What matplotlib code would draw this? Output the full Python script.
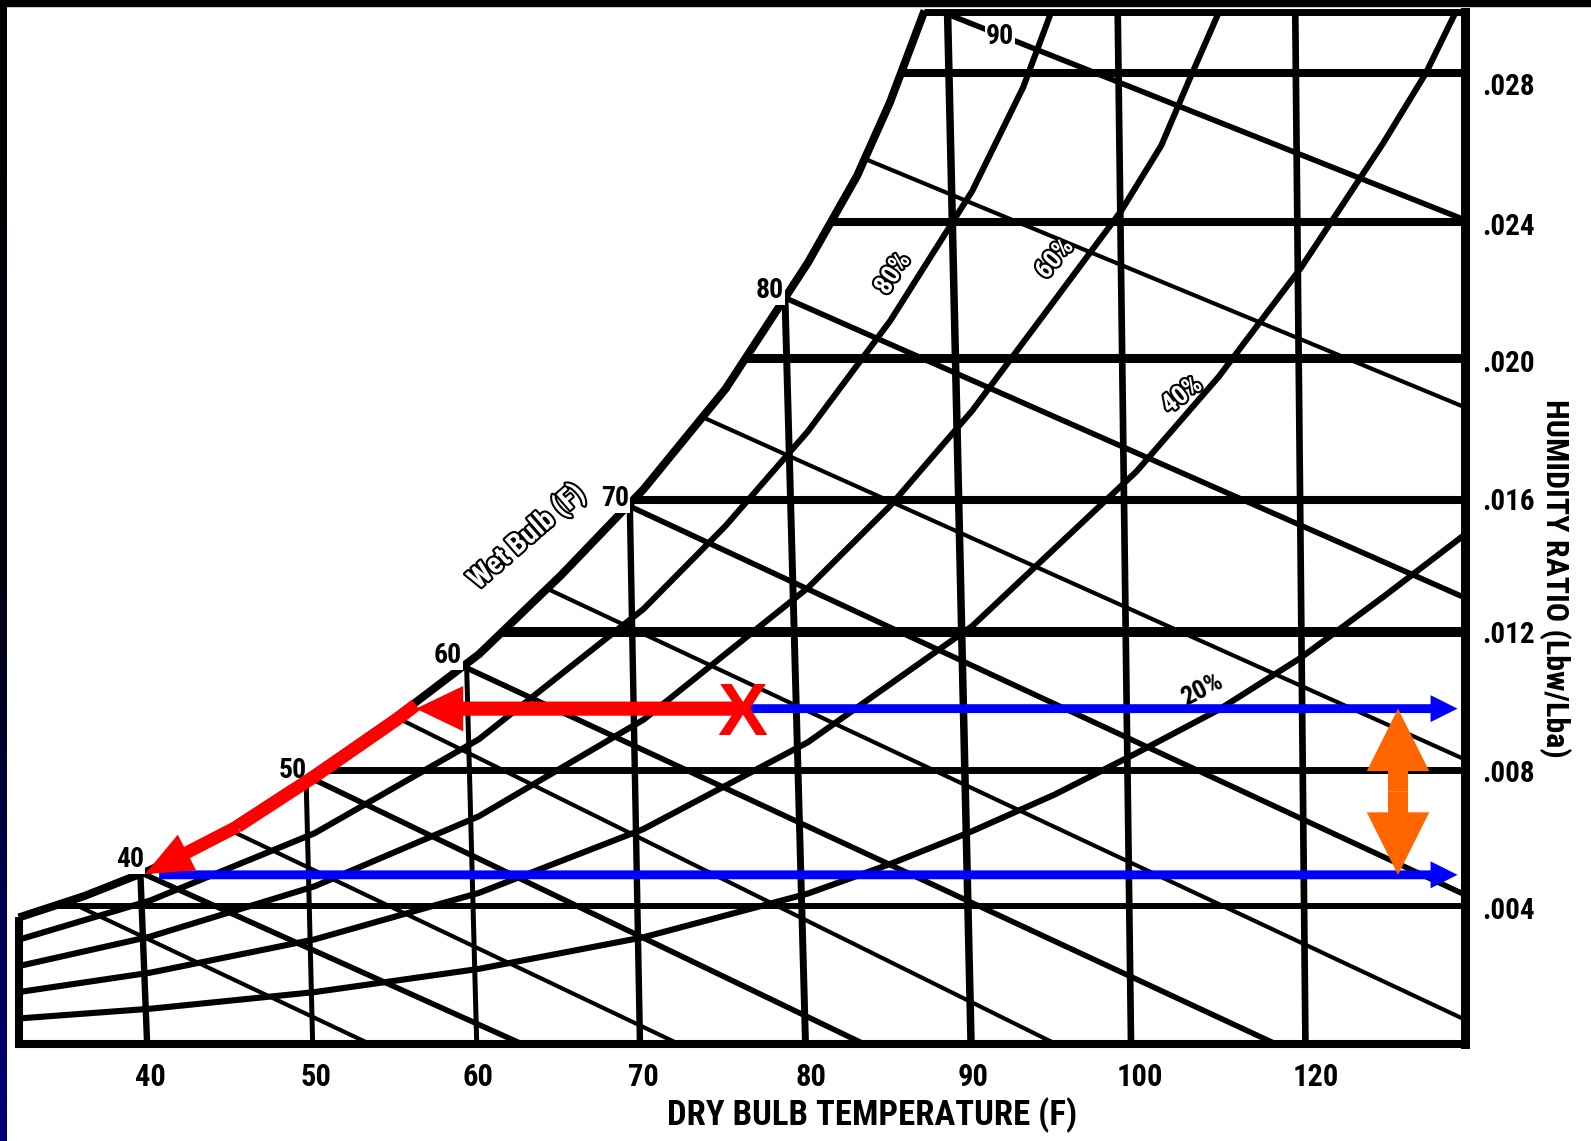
import numpy as np
import matplotlib
matplotlib.use('Agg')
import matplotlib.pyplot as plt
import matplotlib.patheffects as pe
from matplotlib import font_manager
from matplotlib.colors import LinearSegmentedColormap
from matplotlib.patches import Rectangle

# values: x = dry bulb (F), y = humidity ratio (lb/lb)

# saturation curve
sat_T = [32, 36, 40, 45, 50, 55, 60, 65, 70, 75, 80, 83, 85, 87.1]
sat_w = [0.00366, 0.00428, 0.00503, 0.00627, 0.00781, 0.00945, 0.01125,
         0.01353, 0.01600, 0.01890, 0.02253, 0.02504, 0.02716, 0.02980]

# chart frame
chart_left = 32
chart_right = 120
chart_top = 0.02975

# constant humidity ratio lines and right-hand labels
hum_lines = [0.0040, 0.0079, 0.0119, 0.0157, 0.0198, 0.0237, 0.0280]
hum_labels = ['.004', '.008', '.012', '.016', '.020', '.024', '.028']
hum_label_w = [0.00386, 0.00780, 0.01179, 0.01564, 0.01961, 0.02356, 0.02760]

# dry bulb lines (they lean a little), bottom labels
db_labels = ['40', '50', '60', '70', '80', '90', '100', '120']
db_label_T = [40.0, 50.09, 59.96, 69.99, 80.22, 90.05, 100.18, 110.88]
db_top_T = [39.40, 49.48, 59.24, 69.17, 78.61, 88.50, 98.85, 109.65]
db_bot_T = [39.81, 49.88, 59.86, 69.79, 79.86, 89.93, 99.66, 110.27]

# wet bulb lines: start on saturation, end on bottom or right frame
wb_names = [35, 40, 45, 50, 55, 60, 65, 70, 75, 80, 85, 90]
wb_start_T = [35.0, 39.50, 44.73, 49.66, 54.95, 59.03, 64.14, 69.06, 73.59, 78.61, 83.46, 88.22]
wb_end_T = [53.43, 62.68, 72.22, 83.48, 95.15, 108.53, 120, 120, 120, 120, 120, 120]
wb_end_w = [0, 0, 0, 0, 0, 0, 0.00071, 0.00431, 0.00821, 0.01287, 0.01836, 0.02376]
wb_labels = ['40', '50', '60', '70', '80', '90']
wb_label_T = [38.78, 48.65, 58.11, 68.27, 77.70, 91.69]
wb_label_w = [0.00533, 0.00791, 0.01121, 0.01574, 0.02172, 0.02906]

# relative humidity curves
rh80_T = [32, 40, 50, 60, 70, 75, 80, 85, 90, 93.1, 94.8]
rh80_w = [0.00302, 0.00415, 0.00609, 0.00880, 0.01255, 0.01495, 0.01767,
          0.02085, 0.02460, 0.02759, 0.02975]
rh60_T = [32, 40, 50, 60, 70, 80, 85, 90, 95, 99.05, 101.5, 103.2, 105.0]
rh60_w = [0.00226, 0.00311, 0.00456, 0.00658, 0.00936, 0.01316, 0.01552,
          0.01827, 0.02144, 0.02402, 0.02591, 0.02780, 0.02975]
rh40_T = [32, 40, 50, 60, 70, 80, 90, 100, 105, 110, 115, 117.6, 119.4]
rh40_w = [0.00151, 0.00207, 0.00303, 0.00437, 0.00621, 0.00871, 0.01206,
          0.01652, 0.01925, 0.02239, 0.02598, 0.02800, 0.02975]
rh20_T = [32, 40, 50, 60, 70, 80, 85, 90, 95, 100, 105, 110, 115, 120]
rh20_w = [0.00075, 0.00103, 0.00151, 0.00218, 0.00309, 0.00435, 0.00520,
          0.00615, 0.00720, 0.00840, 0.00965, 0.01115, 0.01290, 0.01471]
rh_labels = ['80%', '60%', '40%', '20%']
rh_label_T = [85.19, 95.03, 102.77, 103.99]
rh_label_w = [0.02221, 0.02264, 0.01871, 0.01023]
rh_label_rot = [57, 50, 38, 27]

# process drawn on the chart
state_T, state_w = 76.0, 0.00968          # the red X
dew_T = 56.16                              # tip of the red horizontal arrow
cool_T = [56.16, 55.0, 53.0, 51.0, 49.8, 47.5, 45.3]   # red arrow down the saturation curve
cool_tip = (39.68, 0.00491)
dry_w = 0.00489                            # lower blue line
dry_start_T = 40.54
blue_start_T = 76.36
blue_tip_T = 119.52
delta_T = 115.9                            # orange double arrow

# ---------------------------------------------------------------
names = {f.name for f in font_manager.fontManager.ttflist}
NARROW = 'DejaVu Sans'
for cand in ['Liberation Sans Narrow', 'Roboto Condensed', 'Open Sans Condensed']:
    if cand in names:
        NARROW = cand
        break
SANS = 'Liberation Sans' if 'Liberation Sans' in names else 'DejaVu Sans'

fig = plt.figure(figsize=(15.91, 11.41), dpi=100, facecolor='white')
ax = fig.add_axes([0, 0, 1, 1])
ax.set_xlim(30.86, 127.64)
ax.set_ylim(-0.002782, 0.030105)
ax.axis('off')

K = 'black'

def line(xs, ys, lw, color=K, z=2, cap='butt'):
    ax.plot(xs, ys, color=color, lw=lw, solid_capstyle=cap,
            solid_joinstyle='round', zorder=z)

# frame
line([chart_left, chart_right], [0, 0], 5.8, cap='projecting')
line([chart_right, chart_right], [0, chart_top], 6.5, cap='projecting')
top_left_T = np.interp(chart_top, sat_w, sat_T)
line([top_left_T, chart_right], [chart_top, chart_top], 5.0)
line([chart_left, chart_left], [0, sat_w[0]], 5.8)

# saturation
line(sat_T, sat_w, 5.8)

# humidity ratio lines
hum_lw = [4.3, 5.0, 7.2, 5.8, 6.5, 5.8, 5.8]
for w, lw in zip(hum_lines, hum_lw):
    line([np.interp(w, sat_w, sat_T), chart_right], [w, w], lw)

# dry bulb lines
db_lw = [4.6, 3.6, 3.6, 4.6, 5.0, 5.4, 4.8, 4.8]
for t0, t1, lw in zip(db_top_T, db_bot_T, db_lw):
    w0 = min(np.interp(t0, sat_T, sat_w), chart_top)
    line([t0, t1], [w0, 0], lw)

# wet bulb lines
for n, t0, t1, w1 in zip(wb_names, wb_start_T, wb_end_T, wb_end_w):
    w0 = min(np.interp(t0, sat_T, sat_w), chart_top)
    line([t0, t1], [w0, w1], 4.0 if n % 10 == 0 else 3.0)

# relative humidity curves
for T, w in [(rh80_T, rh80_w), (rh60_T, rh60_w), (rh40_T, rh40_w), (rh20_T, rh20_w)]:
    line(T, w, 4.4)

# ---- text ----
bold = dict(family=[NARROW, 'DejaVu Sans'], fontweight='bold', color=K)

for lab, t in zip(db_labels, db_label_T):
    ax.text(t, -0.00094, lab, ha='center', va='center', fontsize=22, **bold)

for lab, w in zip(hum_labels, hum_label_w):
    ax.text(121.0, w, lab, ha='left', va='center', fontsize=21, **bold)

for lab, t, w in zip(wb_labels, wb_label_T, wb_label_w):
    ax.text(t, w, lab, ha='center', va='center', fontsize=20, zorder=4,
            bbox=dict(facecolor='white', edgecolor='none', pad=0.5), **bold)

hollow = [pe.withStroke(linewidth=3, foreground='black')]
for lab, t, w, r in zip(rh_labels, rh_label_T, rh_label_w, rh_label_rot):
    solid = lab == '20%'
    ax.text(t, w, lab, ha='center', va='center', rotation=r, fontsize=19,
            family=[NARROW, 'DejaVu Sans'], fontweight='bold',
            color='black' if solid else 'white',
            path_effects=None if solid else hollow, zorder=4)

ax.text(62.9, 0.01464, 'Wet Bulb (F)', ha='center', va='center', rotation=41,
        fontsize=21, family=[NARROW, 'DejaVu Sans'], fontweight='bold',
        color='white', path_effects=hollow, zorder=4)

ax.text(83.9, -0.00203, 'DRY BULB TEMPERATURE (F)', ha='center', va='center',
        fontsize=25, **bold)
ax.text(125.42, 0.013445, 'HUMIDITY RATIO (Lbw/Lba)', ha='center', va='center',
        rotation=-90, fontsize=23, **bold)

# ---- process arrows ----
def flat_arrow(tail, tip, color, scale, hl, hw, tw, z):
    ax.annotate('', xy=tip, xytext=tail, zorder=z,
                arrowprops=dict(arrowstyle='simple,head_length=%g,head_width=%g,tail_width=%g' % (hl, hw, tw),
                                mutation_scale=scale, color=color, lw=0,
                                shrinkA=0, shrinkB=0))

BLUE, RED, ORANGE = '#0000ff', '#ff0000', '#ff6600'
flat_arrow((blue_start_T, state_w), (blue_tip_T, state_w), BLUE, 20, 0.97, 0.97, 0.32, 5)
flat_arrow((dry_start_T, dry_w), (blue_tip_T, dry_w), BLUE, 20, 0.97, 0.97, 0.32, 5)

flat_arrow((state_T, state_w), (dew_T, state_w), RED, 34, 1.0, 0.96, 0.30, 6)
cool_w = np.interp(cool_T, sat_T, sat_w) - 0.00008
line(cool_T, cool_w, 9.5, color=RED, z=6)
flat_arrow((cool_T[-1], cool_w[-1]), cool_tip, RED, 34, 1.0, 0.85, 0.27, 6)

mid_w = (state_w + dry_w) / 2
flat_arrow((delta_T, mid_w), (delta_T, state_w), ORANGE, 45, 1.0, 1.0, 0.32, 6)
flat_arrow((delta_T, mid_w), (delta_T, dry_w), ORANGE, 45, 1.0, 1.0, 0.32, 6)

ax.text(state_T, state_w - 0.0002, 'X', ha='center', va='center', color=RED,
        fontsize=54, family=[SANS, 'DejaVu Sans'], fontweight='bold', zorder=7)

# slide background showing at the edges
fig.patches.append(Rectangle((0, 1 - 5.5 / 1141), 1, 5.5 / 1141,
                             transform=fig.transFigure, color='black', zorder=10))
edge = fig.add_axes([0, 0, 7 / 1591, 1])
edge.imshow(np.linspace(0, 1, 200).reshape(-1, 1), aspect='auto',
            cmap=LinearSegmentedColormap.from_list('slide', ['#000000', '#000010', '#00007a']))
edge.axis('off')

fig.savefig('out.png', dpi=100, facecolor='white')
